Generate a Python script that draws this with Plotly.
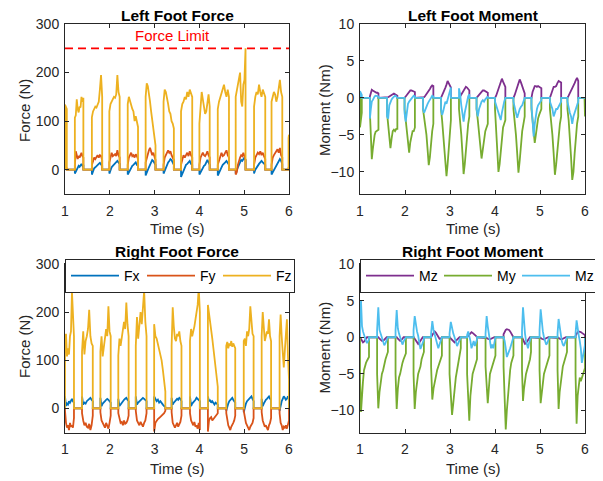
import numpy as np
import plotly.graph_objects as go

# ---------------- data ----------------
X_TICKS = [1, 2, 3, 4, 5, 6]
FORCE_TICKS = [0, 100, 200, 300]
MOMENT_TICKS = [-10, -5, 0, 5, 10]
FORCE_LIMIT = 250

# left foot stance phases (s): (start, end)
LEFT_STANCES = [(1.00, 1.04), (1.22, 1.41), (1.60, 1.83), (1.99, 2.22), (2.40, 2.63),
                (2.80, 3.02), (3.20, 3.43), (3.59, 3.84), (4.00, 4.23), (4.41, 4.66),
                (4.81, 5.03), (5.22, 5.47), (5.61, 5.85), (5.99, 6.00)]

LEFT_FX = [[2, 0],
           [-8, -3, 2, 5, 8, 6, 10, 12, 8, 10],
           [-10, -2, 3, 5, 8, 10, 12, 14, 10, 8],
           [-8, 0, 5, 8, 10, 12, 15, 18, 15, 12],
           [-10, -5, 0, 5, 8, 10, 12, 15, 10, 8],
           [-12, -5, 0, 5, 10, 15, 20, 18, 15, 10],
           [-8, -2, 5, 10, 15, 18, 22, 20, 15, 10],
           [-15, -8, 0, 5, 10, 12, 15, 18, 12, 10],
           [-10, -5, 0, 5, 8, 10, 15, 20, 15, 10],
           [-12, -5, 0, 5, 10, 12, 15, 18, 15, 10],
           [-8, 0, 5, 10, 15, 20, 18, 22, 25, 20],
           [-8, 0, 5, 10, 12, 15, 18, 15, 12, 10],
           [-10, -5, 0, 5, 10, 15, 20, 22, 18, 12],
           [0, 0]]

LEFT_FY = [[5, 3],
           [10, 38, 30, 22, 28, 25, 30, 35, 28, 25],
           [10, 20, 25, 22, 28, 30, 25, 30, 28, 20],
           [15, 30, 35, 28, 30, 32, 28, 40, 30, 25],
           [10, 25, 30, 35, 28, 30, 25, 32, 28, 22],
           [15, 25, 35, 40, 45, 38, 30, 35, 28, 20],
           [10, 25, 30, 35, 40, 35, 38, 30, 25, 20],
           [10, 20, 30, 25, 30, 35, 28, 38, 30, 25],
           [10, 25, 30, 35, 30, 28, 32, 38, 30, 25],
           [10, 20, 30, 35, 28, 30, 35, 40, 30, 25],
           [-10, -5, 10, 20, 25, 30, 28, 35, 25, 20],
           [10, 25, 30, 35, 32, 38, 30, 35, 28, 22],
           [10, 25, 30, 35, 38, 42, 35, 45, 30, 25],
           [3, 3]]

LEFT_FZ = [[134, 125],
           [107, 112, 145, 125, 118, 130, 128, 150, 140, 148],
           [108, 120, 125, 130, 128, 135, 140, 165, 195, 150],
           [120, 135, 140, 145, 150, 148, 155, 195, 160, 150],
           [135, 150, 140, 130, 125, 120, 100, 110, 95, 88],
           [150, 178, 172, 160, 140, 120, 100, 85, 65, 50],
           [140, 165, 160, 150, 135, 120, 115, 100, 95, 85],
           [120, 135, 140, 150, 145, 160, 150, 165, 155, 150],
           [95, 130, 160, 145, 128, 115, 120, 140, 155, 130],
           [125, 140, 150, 160, 170, 175, 160, 150, 165, 150],
           [150, 165, 175, 185, 200, 140, 130, 175, 185, 250],
           [130, 150, 160, 155, 175, 160, 150, 165, 158, 150],
           [140, 150, 160, 155, 140, 150, 165, 185, 160, 150],
           [65, 72]]

LEFT_MX = [[0, 0],
           [0.2, 0.6, 1.1, 1.0, 0.9, 0.8, 0.8, 0.7, 0.7, 0.6],
           [0, 0.1, 0.2, 0.3, 0.5, 0.6, 0.6, 0.5, 0.4, 0.3],
           [0, 0.2, 0.4, 0.6, 0.8, 1.0, 1.0, 0.9, 0.8, 0.8],
           [0, 0.1, 0.3, 0.5, 0.7, 1.0, 1.2, 1.5, 1.7, 1.6],
           [0, 0.3, 0.6, 1.0, 1.4, 1.8, 2.3, 2.0, 1.6, 1.4],
           [0, 0.2, 0.5, 0.8, 1.0, 1.2, 1.5, 1.4, 1.2, 1.0],
           [0, 0.2, 0.4, 0.6, 0.8, 1.0, 1.0, 0.9, 0.8, 0.7],
           [0, 0.3, 0.8, 1.3, 1.8, 2.3, 2.6, 2.2, 1.8, 1.5],
           [0, 0.4, 1.0, 1.6, 2.1, 2.5, 2.1, 1.6, 1.0, 0.6],
           [0, 0.8, 1.4, 1.6, 1.6, 1.5, 1.6, 1.5, 1.4, 1.3],
           [0, 0.5, 1.2, 1.5, 1.5, 1.6, 2.0, 2.3, 2.2, 2.1],
           [0, 0.3, 0.6, 1.0, 1.4, 1.6, 2.0, 2.4, 2.7, 2.3],
           [0, 0]]

LEFT_MY = [[-4.0, -2.0],
           [-2, -5, -8.3, -7, -5.5, -5, -4.6, -4.5, -4.4, -4.3],
           [-2, -3.5, -5, -6.8, -5.5, -4.5, -4.3, -4.5, -4.2, -4.2],
           [-1.5, -3, -4.5, -6, -7.4, -6, -5, -4.5, -4.5, -4.0],
           [-1.5, -2.5, -3.5, -5, -7, -9.1, -8, -6, -4.5, -3.5],
           [-1.5, -3, -5, -7, -9, -10.6, -9, -7, -5, -3],
           [-1.5, -3, -5, -7.5, -10.3, -9, -7, -5, -3.5, -2.5],
           [-1.5, -3, -5, -6.5, -8.2, -7, -5.5, -4.5, -4, -3.5],
           [-1.5, -4, -7, -10, -9, -7, -5, -4, -3.5, -3],
           [-1.5, -3, -5, -7.5, -10.1, -8.5, -6, -4.5, -3.5, -2.5],
           [-1.5, -3, -4.5, -6.1, -5, -3.8, -2.8, -2.3, -2, -1.5],
           [-1.5, -3, -5, -7.5, -10.4, -9, -7, -5, -3.5, -2.5],
           [-1.5, -3, -5, -8, -11.1, -10, -7.5, -5, -3.5, -2.5],
           [-2.0, -2.5]]

LEFT_MZ = [[0.9, 0.4],
           [-2.8, -1.5, -0.5, -0.3, 0.0, 0.2, 0.3, 0.3, 0.2, 0.2],
           [-2.5, -2.8, -1.0, -0.5, -0.2, 0.0, 0.2, 0.3, 0.2, 0.1],
           [-2.0, -3.2, -1.5, -0.8, -0.5, -0.3, 0.0, 0.2, 0.3, 0.2],
           [-1.5, -2.0, -1.5, -1.0, -0.8, -0.5, -0.3, 0.0, 0.3, 0.2],
           [-1.5, -2.3, -1.8, -1.0, -0.5, -0.8, -0.3, 0.2, 0.8, 1.4],
           [1.3, 0.5, -1.0, -2.5, -3.2, -2.0, -1.0, -0.5, 0.2, 0.5],
           [-1.5, -2.5, -1.5, -0.8, -0.5, -0.3, -0.5, -0.2, 0.0, 0.2],
           [-0.5, -1.0, -1.5, -2.0, -2.5, -3.0, -2.0, -1.0, -0.5, 0.0],
           [-0.5, -1.5, -2.0, -2.7, -2.0, -1.5, -1.2, -1.0, -0.5, 0.0],
           [-1.0, -3.0, -5.2, -3.5, -2.0, -1.5, -1.0, -0.8, -0.5, -0.3],
           [-0.5, -1.0, -1.5, -2.5, -2.0, -1.5, -1.5, -1.2, -1.0, -0.5],
           [-0.5, -1.5, -2.0, -2.5, -3.5, -2.5, -2.0, -1.5, -1.0, -0.5],
           [0, 0]]

# right foot stance phases (s)
RIGHT_STANCES = [(1.00, 1.20), (1.38, 1.62), (1.79, 2.02), (2.19, 2.42), (2.58, 2.82),
                 (2.99, 3.24), (3.38, 3.60), (3.79, 4.01), (4.19, 4.41), (4.60, 4.80),
                 (4.99, 5.21), (5.39, 5.60), (5.79, 6.00)]

RIGHT_FX = [[25, 5, 10, 8, 15, 12, 18, 20, 15, 12],
            [25, 8, 12, 10, 15, 18, 20, 22, 18, 15],
            [22, 5, 10, 12, 15, 18, 20, 18, 15, 12],
            [20, 5, 8, 12, 15, 18, 20, 22, 18, 15],
            [25, 8, 12, 15, 18, 20, 22, 20, 18, 15],
            [25, 20, 15, 18, 12, 15, 10, 8, 5, 3],
            [22, 8, 12, 15, 18, 20, 18, 22, 20, 15],
            [25, 5, 10, 12, 15, 18, 22, 20, 18, 15],
            [25, 15, 18, 12, 15, 10, 8, 12, 10, 8],
            [-5, 5, 10, 15, 18, 20, 22, 18, 15, 12],
            [-8, 5, 10, 15, 18, 20, 22, 25, 20, 15],
            [20, 5, 10, 15, 18, 20, 22, 25, 20, 18],
            [-5, 10, 15, 20, 25, 22, 18, 20, 25, 22]]

RIGHT_FY = [[-5, -30, -40, -35, -45, -30, -38, -35, -40, -20],
            [-10, -25, -35, -30, -38, -40, -32, -45, -35, -15],
            [-8, -25, -30, -35, -40, -30, -38, -42, -30, -15],
            [-10, -20, -30, -28, -35, -25, -32, -30, -25, -15],
            [-5, -25, -30, -35, -28, -32, -38, -30, -25, -10],
            [-48, -30, -25, -22, -20, -18, -15, -12, -10, -5],
            [-8, -30, -35, -40, -35, -30, -38, -32, -28, -15],
            [-10, -25, -30, -35, -28, -38, -35, -42, -30, -45],
            [-48, -25, -20, -18, -25, -22, -20, -18, -15, -10],
            [-10, -30, -35, -40, -45, -38, -35, -30, -25, -15],
            [-5, -20, -30, -35, -40, -45, -38, -35, -30, -20],
            [-8, -25, -30, -38, -35, -40, -45, -35, -30, -20],
            [-10, -30, -35, -45, -38, -40, -35, -42, -35, -25]]

RIGHT_FZ = [[135, 155, 108, 125, 112, 150, 160, 242, 170, 150],
            [118, 160, 112, 140, 150, 165, 205, 150, 135, 130],
            [118, 150, 108, 125, 140, 165, 150, 212, 160, 150],
            [110, 145, 130, 150, 160, 180, 165, 220, 175, 150],
            [130, 190, 145, 180, 200, 175, 205, 245, 180, 150],
            [175, 150, 145, 135, 125, 115, 100, 80, 55, 35],
            [130, 210, 170, 145, 140, 155, 150, 160, 140, 130],
            [140, 165, 150, 158, 170, 185, 200, 215, 250, 200],
            [215, 200, 185, 165, 145, 125, 105, 85, 65, 45],
            [130, 138, 125, 135, 130, 140, 128, 135, 130, 125],
            [140, 145, 130, 160, 150, 165, 212, 170, 155, 150],
            [150, 200, 170, 140, 150, 160, 155, 185, 150, 140],
            [150, 195, 150, 100, 85, 120, 160, 185, 110, 60]]

RIGHT_MX = [[0, -0.3, -0.5, -0.7, -0.6, -0.3, -0.2, 0, 0, 0],
            [0, 0, -0.2, -0.4, -0.5, -0.5, -0.3, -0.2, 0, 0],
            [0, 0, -0.2, -0.4, -0.5, -0.4, -0.2, 0, 0, 0],
            [0, -0.2, -0.5, -0.8, -0.9, -0.7, -0.4, -0.2, 0, 0],
            [0, 0.3, 0.6, 0.8, 0.6, 0.3, 0, -0.2, -0.2, 0],
            [0, -0.2, -0.4, -0.6, -0.7, -0.5, -0.3, -0.1, 0, 0],
            [0, 0.2, 0.4, 0.6, 0.7, 0.6, 0.5, 0.4, 0.2, 0],
            [0, -0.1, -0.2, -0.3, -0.3, -0.2, -0.1, 0, 0, 0],
            [0.4, 0.8, 1.0, 1.1, 1.1, 1.0, 0.8, 0.5, 0.2, 0],
            [0, -0.3, -0.6, -0.9, -0.8, -0.6, -0.4, -0.2, 0, 0],
            [0, -0.1, -0.2, -0.3, -0.3, -0.2, -0.1, 0, 0, 0],
            [0, -0.1, -0.2, -0.3, -0.3, -0.2, -0.1, 0, 0, 0],
            [0.2, 0.5, 0.7, 0.8, 0.8, 0.7, 0.6, 0.5, 0.4, 0.3]]

RIGHT_MY = [[-5.5, -10.2, -7.0, -6.0, -4.5, -3.8, -3.5, -3.2, -3.0, -2.7],
            [-5.0, -9.7, -7.5, -6.0, -5.0, -4.5, -3.5, -3.0, -2.5, -2.0],
            [-5.0, -9.8, -7.0, -5.5, -5.0, -4.0, -3.5, -3.0, -2.5, -2.2],
            [-5.0, -9.8, -7.5, -6.0, -5.0, -4.5, -4.0, -3.0, -2.5, -2.0],
            [-4.0, -8.5, -7.0, -6.0, -5.0, -4.5, -4.0, -3.5, -3.0, -2.5],
            [-5.0, -8.0, -10.6, -9.0, -7.0, -5.5, -4.5, -3.5, -2.5, -1.5],
            [-5.0, -8.0, -11.4, -8.0, -6.0, -5.0, -4.5, -4.0, -3.5, -3.0],
            [-4.0, -6.0, -9.0, -7.0, -5.0, -4.5, -4.0, -3.5, -3.0, -2.5],
            [-4.0, -8.0, -12.6, -10.0, -8.0, -6.0, -4.5, -3.5, -3.0, -2.5],
            [-4.5, -8.7, -7.0, -5.5, -5.0, -4.5, -4.0, -3.5, -3.0, -2.0],
            [-4.5, -9.0, -7.5, -6.0, -5.0, -4.5, -4.0, -3.5, -3.0, -2.5],
            [-4.5, -9.8, -7.5, -6.0, -5.0, -4.0, -3.5, -3.0, -2.5, -2.0],
            [-5.0, -11.8, -8.0, -6.5, -5.5, -6.0, -5.5, -5.0, -4.5, -4.2]]

RIGHT_MZ = [[2.0, 5.0, 1.5, 0.8, 0.3, 0.0, -0.5, -0.8, -0.6, -0.3],
            [1.0, 4.1, 1.0, 0.5, 0.0, -0.5, -1.1, -0.8, -0.5, -0.2],
            [1.0, 3.7, 1.2, 0.5, 0.0, -0.5, -1.0, -0.6, -0.3, -0.1],
            [1.0, 2.9, 1.5, 0.8, 0.2, -0.5, -1.6, -1.2, -0.8, -0.3],
            [0.5, 2.2, 1.0, 0.3, -0.3, -0.8, -1.5, -1.0, -0.5, -0.2],
            [0.5, 2.1, 1.0, 0.5, 0.0, -0.5, -1.2, -0.8, -0.5, -0.2],
            [0.3, 0.8, 0.2, -0.5, -1.5, -1.0, -0.5, -1.2, -0.8, -0.3],
            [0.5, 2.9, 1.5, 0.5, -0.5, -1.5, -1.0, -1.5, -0.8, -0.3],
            [0.0, -0.5, -1.5, -2.7, -2.3, -2.0, -1.5, -1.0, -0.5, -0.2],
            [1.0, 4.1, 2.0, 0.5, -0.5, -1.0, -1.5, -0.8, -0.5, -0.2],
            [1.0, 3.8, 2.0, 0.8, 0.0, -0.5, -1.0, -0.8, -0.5, -0.2],
            [0.5, 2.5, 1.2, 0.3, -0.5, -1.0, -1.2, -0.8, -0.5, -0.2],
            [0.5, 2.3, 1.0, 0.3, -0.5, -1.5, -3.5, -2.5, -1.5, -1.0]]

# ---------------- styling ----------------
C_FX, C_FY, C_FZ = "#0072BD", "#D95319", "#EDB120"
C_MX, C_MY, C_MZ = "#7E2F8E", "#77AC30", "#4DBEEE"
FONT = "Liberation Sans, Arial, Helvetica, sans-serif"
AX = "#262626"
W, H = 603, 481
OFF = 8  # the page places the figure 8px from the window's top-left corner


def px(x):
    return (x - OFF) / W


def py(y):
    return 1 - (y - OFF) / H


def series(stances, vals):
    t, v = [1.0], [0.0]
    for (s, e), vv in zip(stances, vals):
        tt = np.linspace(s, e, len(vv))
        t += [s] + list(tt) + [e]
        v += [0.0] + list(vv) + [0.0]
    t.append(6.0)
    v.append(0.0)
    return t, v


fig = go.Figure()


def add(stances, vals, color, name, xa, ya, legend=None):
    t, v = series(stances, vals)
    fig.add_trace(go.Scatter(x=t, y=v, mode="lines", name=name,
                             line=dict(color=color, width=1.8),
                             xaxis=xa, yaxis=ya,
                             showlegend=legend is not None,
                             legend=legend if legend else "legend"))


# top-left: left foot force
add(LEFT_STANCES, LEFT_FX, C_FX, "Fx", "x", "y")
add(LEFT_STANCES, LEFT_FY, C_FY, "Fy", "x", "y")
add(LEFT_STANCES, LEFT_FZ, C_FZ, "Fz", "x", "y")
fig.add_trace(go.Scatter(x=[1, 6], y=[FORCE_LIMIT, FORCE_LIMIT], mode="lines",
                         line=dict(color="#FF0000", width=1.8, dash="8px,5px"),
                         xaxis="x", yaxis="y", showlegend=False))
# top-right: left foot moment
add(LEFT_STANCES, LEFT_MX, C_MX, "Mz", "x2", "y2")
add(LEFT_STANCES, LEFT_MY, C_MY, "My", "x2", "y2")
add(LEFT_STANCES, LEFT_MZ, C_MZ, "Mz", "x2", "y2")
# bottom-left: right foot force
add(RIGHT_STANCES, RIGHT_FX, C_FX, "Fx", "x3", "y3", "legend")
add(RIGHT_STANCES, RIGHT_FY, C_FY, "Fy", "x3", "y3", "legend")
add(RIGHT_STANCES, RIGHT_FZ, C_FZ, "Fz", "x3", "y3", "legend")
fig.add_trace(go.Scatter(x=[1, 6], y=[FORCE_LIMIT, FORCE_LIMIT], mode="lines",
                         line=dict(color="#FF0000", width=1.8, dash="8px,5px"),
                         xaxis="x3", yaxis="y3", showlegend=False))
# bottom-right: right foot moment
add(RIGHT_STANCES, RIGHT_MX, C_MX, "Mz", "x4", "y4", "legend2")
add(RIGHT_STANCES, RIGHT_MY, C_MY, "My", "x4", "y4", "legend2")
add(RIGHT_STANCES, RIGHT_MZ, C_MZ, "Mz", "x4", "y4", "legend2")


def xax(dom, anchor):
    return dict(domain=dom, anchor=anchor, range=[1, 6], tickvals=X_TICKS,
                ticks="inside", ticklen=4, tickcolor=AX, showline=True, linecolor=AX,
                linewidth=1, mirror="ticks", showgrid=False, zeroline=False,
                automargin=False,
                tickfont=dict(family=FONT, size=14, color=AX), ticklabelstandoff=4)


def yax(dom, anchor, rng, tv):
    return dict(domain=dom, anchor=anchor, range=rng, tickvals=tv,
                ticks="inside", ticklen=4, tickcolor=AX, showline=True, linecolor=AX,
                linewidth=1, mirror="ticks", showgrid=False, zeroline=False,
                automargin=False,
                tickfont=dict(family=FONT, size=14, color=AX), ticklabelstandoff=2)


XL = [px(65), px(289)]
XR = [px(360), px(585)]
YT = [py(194), py(24)]
YB = [py(432.5), py(264)]

legend_common = dict(orientation="h", xanchor="left", yanchor="top",
                     bgcolor="white", bordercolor=AX, borderwidth=1,
                     font=dict(family=FONT, size=14, color="black"),
                     itemwidth=48, entrywidthmode="pixels",
                     tracegroupgap=0, itemclick=False)

fig.update_layout(
    width=W, height=H, margin=dict(l=0, r=0, t=0, b=0, autoexpand=False),
    paper_bgcolor="white", plot_bgcolor="white",
    font=dict(family=FONT, size=14, color=AX),
    xaxis=xax(XL, "y"), yaxis=yax(YT, "x", [-50, 300], FORCE_TICKS),
    xaxis2=xax(XR, "y2"), yaxis2=yax(YT, "x2", [-13, 10], MOMENT_TICKS),
    xaxis3=xax(XL, "y3"), yaxis3=yax(YB, "x3", [-50, 300], FORCE_TICKS),
    xaxis4=xax(XR, "y4"), yaxis4=yax(YB, "x4", [-13, 10], MOMENT_TICKS),
    legend=dict(x=px(65), y=py(259), entrywidth=13, **legend_common),
    legend2=dict(x=px(360), y=py(259), entrywidth=15, **legend_common),
)

annotations = []


def ann(text, x, y, size=15, color=AX, angle=0, bold=False):
    annotations.append(dict(text=f"<b>{text}</b>" if bold else text,
                            x=px(x), y=py(y), xref="paper", yref="paper",
                            xanchor="center", yanchor="middle", showarrow=False,
                            textangle=angle, font=dict(family=FONT, size=size, color=color)))


ann("Left Foot Force", 177, 15.5, size=15.5, color="black", bold=True)
ann("Left Foot Moment", 472.5, 15.5, size=15.5, color="black", bold=True)
ann("Right Foot Force", 177, 251, size=15.5, color="black", bold=True)
ann("Right Foot Moment", 472.5, 251, size=15.5, color="black", bold=True)
ann("Time (s)", 177, 229)
ann("Time (s)", 472.5, 229)
ann("Time (s)", 177, 468)
ann("Time (s)", 472.5, 468)
ann("Force (N)", 24, 111, angle=-90)
ann("Moment (Nm)", 324, 110, angle=-90)
ann("Force (N)", 24, 347, angle=-90)
ann("Moment (Nm)", 324, 347.5, angle=-90)
annotations.append(dict(text="Force Limit", x=3.4, y=276, xref="x", yref="y",
                        xanchor="center", yanchor="middle", showarrow=False,
                        font=dict(family=FONT, size=15, color="#FF0000")))
fig.update_layout(annotations=annotations)

fig.write_html("out.html")
